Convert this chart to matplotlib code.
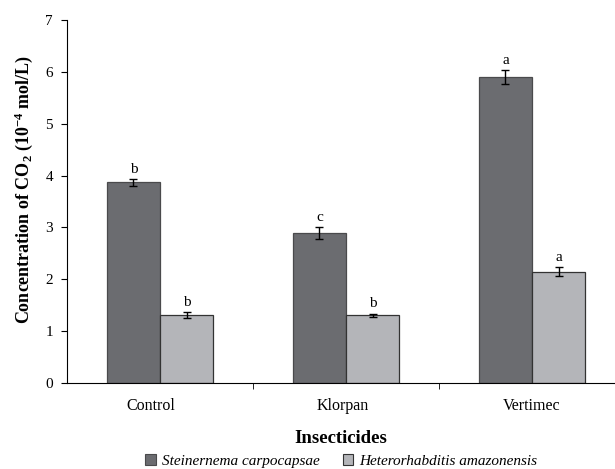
import numpy as np
from matplotlib import pyplot as plt
from matplotlib.patches import Patch

plt.rcParams["font.family"] = ["Liberation Serif", "DejaVu Serif"]
plt.rcParams["mathtext.default"] = "regular"

categories = ["Control", "Klorpan", "Vertimec"]
series_names = ["Steinernema carpocapsae", "Heterorhabditis amazonensis"]
steinernema = [3.87, 2.89, 5.9]
steinernema_err = [0.07, 0.12, 0.13]
heterorhabditis = [1.31, 1.31, 2.15]
heterorhabditis_err = [0.05, 0.03, 0.08]
letters_s = ["b", "c", "a"]
letters_h = ["b", "b", "a"]

colors = ["#6b6c70", "#b4b5b9"]
edges = ["#4a4a4c", "#333333"]

fig = plt.figure(figsize=(6.15, 4.69), dpi=100)
ax = fig.add_axes([67 / 615, 86 / 469, 548 / 615, 363 / 469])

x = np.arange(len(categories))
w = 0.285
for vals, errs, lets, off, c, ec in [
    (steinernema, steinernema_err, letters_s, -w / 2, colors[0], edges[0]),
    (heterorhabditis, heterorhabditis_err, letters_h, w / 2, colors[1], edges[1]),
]:
    ax.bar(x + off, vals, w, color=c, edgecolor=ec, linewidth=0.9, zorder=2)
    ax.errorbar(x + off, vals, yerr=errs, fmt="none", ecolor="black",
                elinewidth=1, capsize=3, capthick=1, zorder=3)
    for xi, v, e, l in zip(x + off, vals, errs, lets):
        ax.text(xi, v + e + 0.06, l, ha="center", va="bottom", fontsize=11)

ax.set_xlim(-0.5, -0.5 + 548 / 186)
ax.set_ylim(0, 7)
ax.set_yticks(range(8))
ax.set_xticks(x - np.array([0.05, 0.015, 0.0]))
ax.set_xticklabels(categories, fontsize=11.5)
ax.tick_params(axis="x", length=0, pad=11)
ax.set_xticks([0.5, 1.5], minor=True)
ax.tick_params(axis="x", which="minor", length=4, direction="out")
ax.tick_params(axis="y", length=4, direction="out", labelsize=11, pad=6)
ax.spines["top"].set_visible(False)
ax.spines["right"].set_visible(False)

ax.set_xlabel("Insecticides", fontsize=13.5, fontweight="bold", labelpad=11)
ax.set_ylabel("Concentration of CO$_2$ (10$^{-4}$ mol/L)", fontsize=13,
              fontweight="bold")
ax.yaxis.set_label_coords(-0.058, 0.534)

handles = [Patch(facecolor=c, edgecolor=ec, linewidth=0.8) for c, ec in zip(colors, edges)]
fig.legend(handles, series_names, loc="center", bbox_to_anchor=(0.555, 0.017),
           ncol=2, frameon=False, prop={"style": "italic", "size": 11},
           handlelength=0.7, handleheight=0.7, handletextpad=0.4, columnspacing=1.5)

fig.savefig("out.png", dpi=100)
